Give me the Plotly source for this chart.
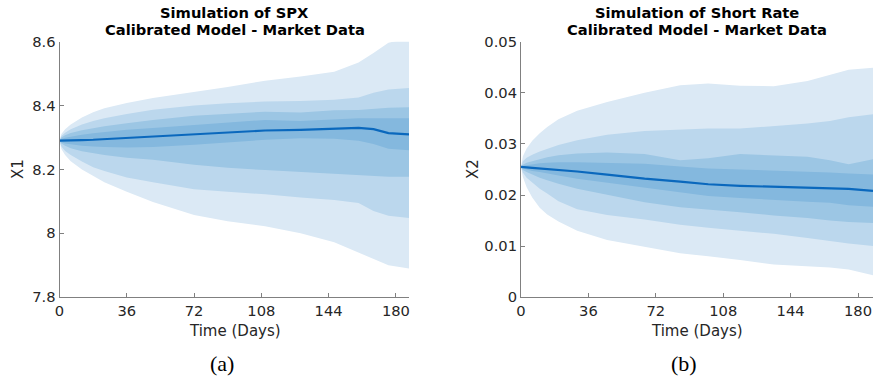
import plotly.graph_objects as go

# ---------------- data: SPX (X1) ----------------
t_spx = [0, 1, 3, 6, 12, 18, 24, 36, 50, 72, 90, 110, 129, 147, 160, 168, 176, 187]
spx_outer_hi = [8.29, 8.311, 8.326, 8.341, 8.363, 8.379, 8.392, 8.408, 8.424, 8.443, 8.458, 8.478, 8.491, 8.506, 8.535, 8.565, 8.597, 8.61]
spx_second_hi = [8.29, 8.305, 8.315, 8.326, 8.341, 8.352, 8.36, 8.374, 8.387, 8.40, 8.407, 8.413, 8.414, 8.418, 8.425, 8.44, 8.45, 8.455]
spx_third_hi = [8.29, 8.30, 8.307, 8.314, 8.323, 8.33, 8.335, 8.345, 8.355, 8.368, 8.375, 8.381, 8.378, 8.385, 8.386, 8.39, 8.393, 8.395]
spx_inner_hi = [8.29, 8.295, 8.299, 8.303, 8.309, 8.313, 8.317, 8.324, 8.33, 8.34, 8.347, 8.355, 8.352, 8.358, 8.36, 8.36, 8.36, 8.36]
spx_median = [8.29, 8.29, 8.29, 8.291, 8.292, 8.293, 8.295, 8.298, 8.302, 8.31, 8.317, 8.322, 8.324, 8.327, 8.33, 8.326, 8.314, 8.31]
spx_inner_lo = [8.29, 8.285, 8.281, 8.278, 8.274, 8.272, 8.27, 8.269, 8.27, 8.277, 8.285, 8.293, 8.298, 8.296, 8.29, 8.28, 8.265, 8.26]
spx_third_lo = [8.29, 8.281, 8.274, 8.266, 8.257, 8.25, 8.245, 8.237, 8.23, 8.215, 8.205, 8.198, 8.192, 8.185, 8.18, 8.178, 8.177, 8.177]
spx_second_lo = [8.29, 8.272, 8.258, 8.245, 8.225, 8.207, 8.195, 8.175, 8.16, 8.138, 8.13, 8.122, 8.112, 8.104, 8.095, 8.07, 8.055, 8.048]
spx_outer_lo = [8.29, 8.264, 8.245, 8.226, 8.2, 8.18, 8.16, 8.13, 8.098, 8.057, 8.038, 8.022, 8.0, 7.972, 7.94, 7.918, 7.9, 7.89]

# ---------------- data: Short rate (X2) ----------------
t_sr = [0, 1, 3, 6, 10, 14, 20, 30, 46, 66, 85, 100, 117, 135, 153, 165, 175, 188]
sr_outer_hi = [0.0255, 0.0276, 0.0291, 0.0306, 0.0321, 0.0333, 0.0348, 0.0365, 0.0382, 0.0400, 0.0415, 0.0418, 0.0414, 0.0413, 0.0423, 0.0435, 0.0445, 0.0449]
sr_second_hi = [0.0255, 0.0266, 0.0273, 0.0279, 0.0285, 0.0290, 0.0298, 0.0307, 0.0318, 0.0325, 0.0328, 0.0330, 0.0330, 0.0335, 0.0340, 0.0345, 0.0352, 0.0358]
sr_third_hi = [0.0255, 0.0259, 0.0263, 0.0266, 0.0270, 0.0274, 0.0278, 0.0281, 0.0283, 0.0280, 0.0268, 0.0272, 0.0280, 0.0277, 0.0275, 0.0268, 0.0260, 0.0270]
sr_inner_hi = [0.0255, 0.0257, 0.0258, 0.0260, 0.0262, 0.0263, 0.0264, 0.0264, 0.0263, 0.0261, 0.0256, 0.0252, 0.0250, 0.0248, 0.0246, 0.0244, 0.0242, 0.0240]
sr_median = [0.0255, 0.0255, 0.0254, 0.0253, 0.0252, 0.0251, 0.0249, 0.0246, 0.0240, 0.0232, 0.0226, 0.0221, 0.0218, 0.0216, 0.0214, 0.0213, 0.0212, 0.0208]
sr_inner_lo = [0.0255, 0.0252, 0.0250, 0.0247, 0.0245, 0.0242, 0.0238, 0.0232, 0.0224, 0.0214, 0.0205, 0.0198, 0.0194, 0.0190, 0.0187, 0.0185, 0.0180, 0.0177]
sr_third_lo = [0.0255, 0.0249, 0.0245, 0.0240, 0.0234, 0.0229, 0.0222, 0.0212, 0.0200, 0.0186, 0.0176, 0.0172, 0.0166, 0.0160, 0.0155, 0.0150, 0.0147, 0.0145]
sr_second_lo = [0.0255, 0.0244, 0.0234, 0.0224, 0.0212, 0.0203, 0.0188, 0.0172, 0.0161, 0.0152, 0.0142, 0.0136, 0.0130, 0.0124, 0.0116, 0.0110, 0.0105, 0.0100]
sr_outer_lo = [0.0255, 0.0235, 0.0215, 0.0195, 0.0175, 0.0162, 0.0148, 0.0130, 0.0112, 0.0098, 0.0086, 0.0080, 0.0073, 0.0064, 0.0060, 0.0058, 0.0054, 0.0043]

x_ticks = [0, 36, 72, 108, 144, 180]
spx_yticks = [7.8, 8.0, 8.2, 8.4, 8.6]
spx_yticklabels = ["7.8", "8", "8.2", "8.4", "8.6"]
sr_yticks = [0, 0.01, 0.02, 0.03, 0.04, 0.05]
sr_yticklabels = ["0", "0.01", "0.02", "0.03", "0.04", "0.05"]

band_colors = ["#dbe9f5", "#bbd7ed", "#9cc6e4", "#84b8de"]
median_color = "#0a68bd"

W, H = 875, 384
fig = go.Figure()


def add_panel(t, bands, median, xa, ya):
    for (lo, hi), col in zip(bands, band_colors):
        fig.add_trace(go.Scatter(x=t, y=lo, mode="lines", line=dict(width=0, color=col),
                                 showlegend=False, hoverinfo="skip", xaxis=xa, yaxis=ya))
        fig.add_trace(go.Scatter(x=t, y=hi, mode="lines", line=dict(width=0, color=col),
                                 fill="tonexty", fillcolor=col,
                                 showlegend=False, hoverinfo="skip", xaxis=xa, yaxis=ya))
    fig.add_trace(go.Scatter(x=t, y=median, mode="lines", line=dict(width=2.2, color=median_color),
                             showlegend=False, xaxis=xa, yaxis=ya))


add_panel(t_spx,
          [(spx_outer_lo, spx_outer_hi), (spx_second_lo, spx_second_hi),
           (spx_third_lo, spx_third_hi), (spx_inner_lo, spx_inner_hi)],
          spx_median, "x", "y")
add_panel(t_sr,
          [(sr_outer_lo, sr_outer_hi), (sr_second_lo, sr_second_hi),
           (sr_third_lo, sr_third_hi), (sr_inner_lo, sr_inner_hi)],
          sr_median, "x2", "y2")

# pixel geometry
top_px, bot_px = 41.7, 297.2
ydom = [1 - bot_px / H, 1 - top_px / H]
xdom1 = [59.5 / W, 409 / W]
xdom2 = [521 / W, 873 / W]

tick_font = dict(family="DejaVu Sans", size=14.7, color="#262626")
axis_common = dict(showgrid=False, zeroline=False, showline=True, linecolor="#808080",
                   linewidth=1, ticks="inside", ticklen=4, tickcolor="#808080",
                   tickfont=tick_font, automargin=False)

fig.update_layout(
    width=W, height=H, margin=dict(l=0, r=0, t=0, b=0, pad=0), autosize=False,
    paper_bgcolor="white", plot_bgcolor="white",
    xaxis=dict(domain=xdom1, range=[0, 187], tickvals=x_ticks, anchor="y", **axis_common),
    yaxis=dict(domain=ydom, range=[7.8, 8.6], tickvals=spx_yticks, ticktext=spx_yticklabels,
               anchor="x", **axis_common),
    xaxis2=dict(domain=xdom2, range=[0, 188], tickvals=x_ticks, anchor="y2", **axis_common),
    yaxis2=dict(domain=ydom, range=[0, 0.05], tickvals=sr_yticks, ticktext=sr_yticklabels,
                anchor="x2", **axis_common),
)

title_font = dict(family="DejaVu Sans", size=14.7, color="#000000")
label_font = dict(family="DejaVu Sans", size=15, color="#262626")
cap_font = dict(family="Liberation Serif", size=22, color="#000000")


def px2x(p):
    return p / W


def px2y(p):
    return 1 - p / H


annotations = []
for cx, title, ylab, ylab_x, cap_x, cap in [
    (234.5, "Simulation of SPX", "X1", 18, 221.5, "(a)"),
    (696.5, "Simulation of Short Rate", "X2", 473, 684, "(b)"),
]:
    annotations.append(dict(x=px2x(cx), y=px2y(12), xref="paper", yref="paper",
                            text="<b>" + title + "</b>", showarrow=False, font=title_font,
                            xanchor="center", yanchor="middle"))
    annotations.append(dict(x=px2x(cx), y=px2y(29.5), xref="paper", yref="paper",
                            text="<b>Calibrated Model - Market Data</b>", showarrow=False,
                            font=title_font, xanchor="center", yanchor="middle"))
    annotations.append(dict(x=px2x(cx), y=px2y(331), xref="paper", yref="paper",
                            text="Time (Days)", showarrow=False, font=label_font,
                            xanchor="center", yanchor="middle"))
    annotations.append(dict(x=px2x(ylab_x), y=px2y(169), xref="paper", yref="paper",
                            text=ylab, showarrow=False, font=label_font, textangle=-90,
                            xanchor="center", yanchor="middle"))
    annotations.append(dict(x=px2x(cap_x), y=px2y(363), xref="paper", yref="paper",
                            text=cap, showarrow=False,
                            font=cap_font, xanchor="center", yanchor="middle"))
fig.update_layout(annotations=annotations)

fig.write_html("out.html",
               post_script="document.body.style.margin='0';document.body.style.overflow='hidden';")
